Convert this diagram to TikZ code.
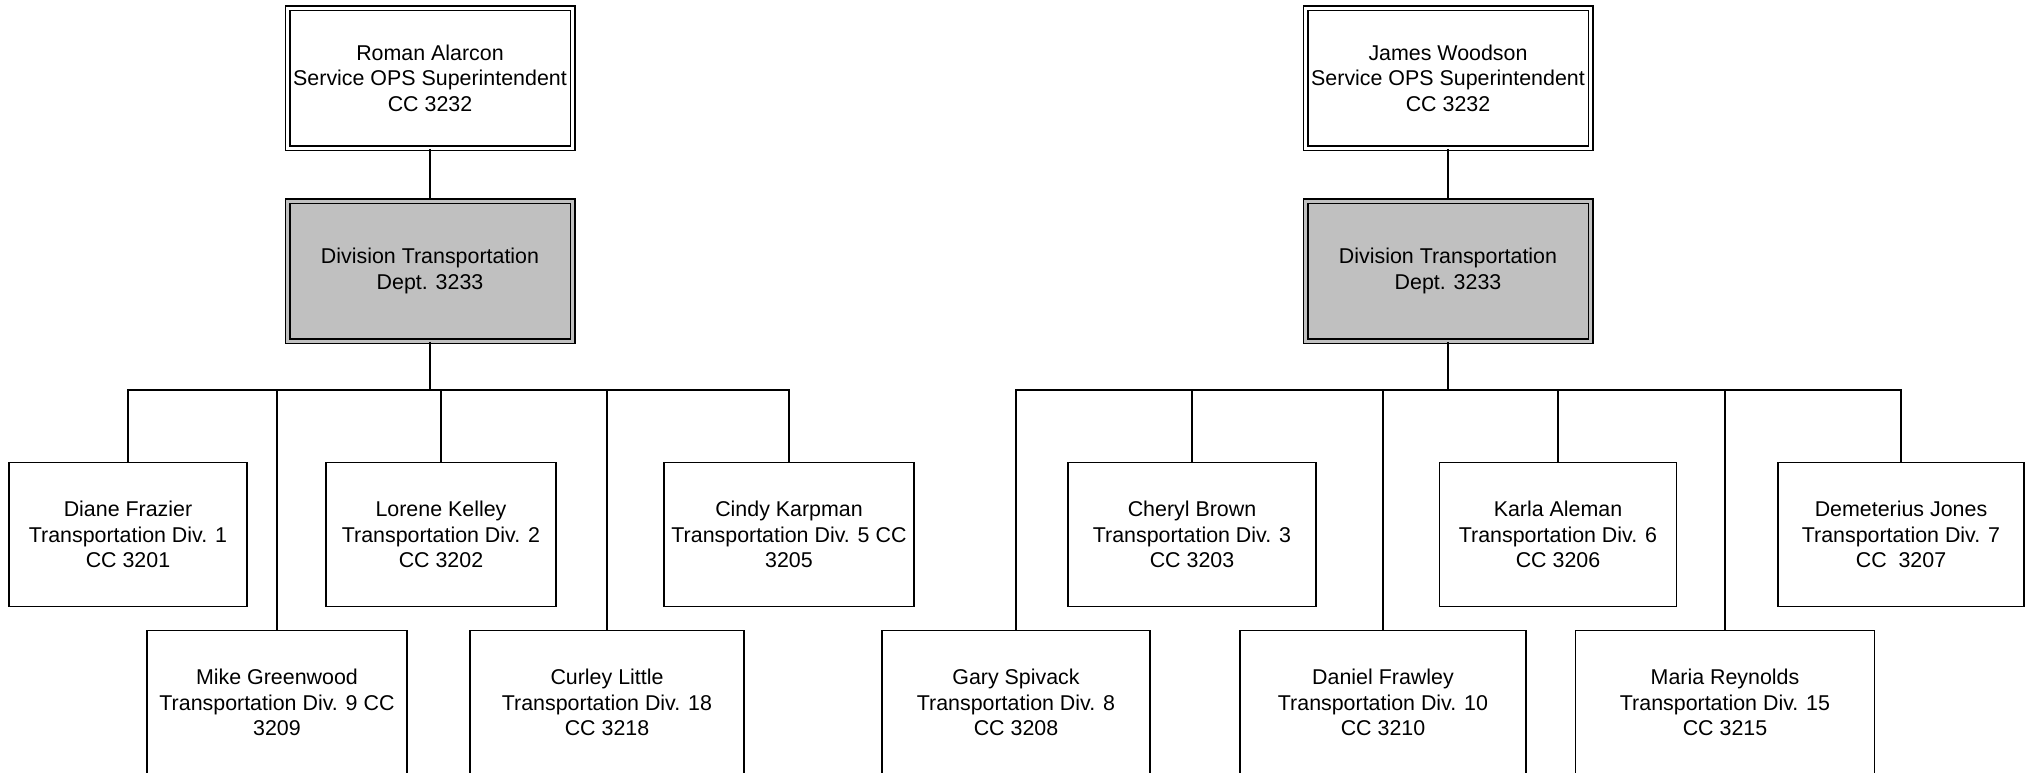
\documentclass[tikz,border=0pt]{standalone}
\usepackage{fontspec}
\setmainfont{Liberation Sans}
\usetikzlibrary{positioning}
\definecolor{BoxGray}{RGB}{192,192,192}
\newcommand\orgfont{\fontsize{10.7}{12.8}\selectfont}
\tikzset{
  link/.style={draw=black,line width=0.75pt},
  headbox/.style={draw=black,double,double distance=1.5pt,line width=0.75pt,fill=white,align=center,font=\orgfont,minimum width=142.5pt,minimum height=70pt,inner sep=2pt},
  deptbox/.style={headbox,double=BoxGray,fill=BoxGray},
  person/.style={draw=black,line width=0.9pt,fill=white,align=center,font=\orgfont,minimum height=72pt,inner sep=2pt}
}
\begin{document}
\begin{tikzpicture}[x=0.5pt,y=-0.5pt]
  \useasboundingbox (0,0) rectangle (2026,772);
  \begin{scope}
  \clip (0,0) rectangle (2026,772);
  % left tree
  \node[headbox] (supL) at (430,78) {Roman Alarcon\\Service OPS Superintendent\\CC 3232};
  \node[deptbox] (deptL) at (430,271) {Division Transportation\\Dept. 3233};
  \coordinate (busL) at (430,390);
  \node[person,minimum width=119pt] (diane) at (128,534.5) {Diane Frazier\\Transportation Div. 1\\CC 3201};
  \node[person,minimum width=115pt] (lorene) at (441,534.5) {Lorene Kelley\\Transportation Div. 2\\CC 3202};
  \node[person,minimum width=125pt] (cindy) at (789,534.5) {Cindy Karpman\\Transportation Div. 5 CC\\3205};
  \node[person,minimum width=130pt] (mike) at (277,702.5) {Mike Greenwood\\Transportation Div. 9 CC\\3209};
  \node[person,minimum width=137pt] (curley) at (607,702.5) {Curley Little\\Transportation Div. 18\\CC 3218};
  % right tree
  \node[headbox] (supR) at (1448,78) {James Woodson\\Service OPS Superintendent\\CC 3232};
  \node[deptbox] (deptR) at (1448,271) {Division Transportation\\Dept. 3233};
  \coordinate (busR) at (1448,390);
  \node[person,minimum width=124pt] (cheryl) at (1192,534.5) {Cheryl Brown\\Transportation Div. 3\\CC 3203};
  \node[person,minimum width=118.5pt] (karla) at (1558,534.5) {Karla Aleman\\Transportation Div. 6\\CC 3206};
  \node[person,minimum width=123pt] (demeterius) at (1901,534.5) {Demeterius Jones\\Transportation Div. 7\\CC~~3207};
  \node[person,minimum width=134pt] (gary) at (1016,702.5) {Gary Spivack\\Transportation Div. 8\\CC 3208};
  \node[person,minimum width=143pt] (daniel) at (1383,702.5) {Daniel Frawley\\Transportation Div. 10\\CC 3210};
  \node[person,minimum width=149.5pt] (maria) at (1725,702.5) {Maria Reynolds\\Transportation Div. 15\\CC 3215};
  % connectors
  \draw[link] (supL) -- (deptL);
  \draw[link] (deptL) -- (busL);
  \foreach \kid in {diane,lorene,cindy,mike,curley}
    \draw[link] (busL) -| (\kid.north);
  \draw[link] (supR) -- (deptR);
  \draw[link] (deptR) -- (busR);
  \foreach \kid in {gary,cheryl,daniel,karla,maria,demeterius}
    \draw[link] (busR) -| (\kid.north);
  \end{scope}
\end{tikzpicture}
\end{document}
